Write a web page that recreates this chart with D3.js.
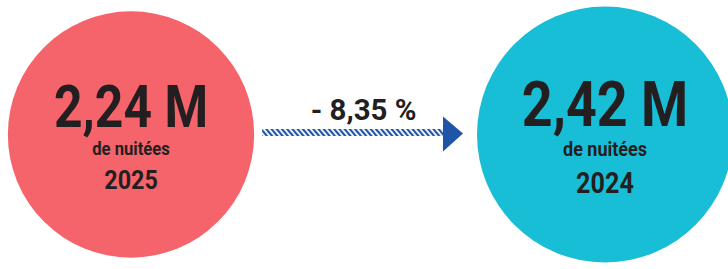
<!DOCTYPE html>
<html>
<head>
<meta charset="utf-8">
<script src="https://cdn.jsdelivr.net/npm/d3@7"></script>
<style>
  html, body { margin: 0; padding: 0; background: #fff; }
  #viz { width: 728px; height: 269px; overflow: hidden; }
  text { font-family: Roboto, "Noto Sans", sans-serif; font-weight: 700; fill: #231f20; }
</style>
</head>
<body>
<div id="viz"></div>
<script>
(function() {

    var width = 728;
    var height = 269;

    // data
    var years = ["2025", "2024"];
    var values = [2.24, 2.42];
    var valueLabels = ["2,24 M", "2,42 M"];
    var unitLabel = "de nuitées";
    var changeLabel = "- 8,35 %";

    var circleColors = ["#f5636b", "#18bdd6"];
    var arrowColor = "#1f55a6";

    var data = years.map(function(y, i) {
        return { year: y, value: values[i], label: valueLabels[i], color: circleColors[i] };
    });

    var svg = d3.select("#viz")
        .append("svg")
        .attr("width", width)
        .attr("height", height);

    // scales
    var xScale = d3.scalePoint().domain(years).range([131, 605]);
    var radiusScale = d3.scaleSqrt().domain([0, 2.42]).range([0, 128]);
    // text grows with the value
    var textScale = d3.scaleLinear().domain([0, 2.24]).range([0, 1]);
    var cy = 134.5;

    // hatch pattern for the arrow shaft
    var defs = svg.append("defs");
    var pat = defs.append("pattern")
        .attr("id", "hatch")
        .attr("patternUnits", "userSpaceOnUse")
        .attr("width", 4)
        .attr("height", 4)
        .attr("patternTransform", "rotate(-40)");
    pat.append("rect")
        .attr("width", 2.2)
        .attr("height", 4)
        .attr("fill", arrowColor);

    // circles
    var groups = svg.selectAll(".bubble")
        .data(data)
        .enter().append("g")
        .attr("class", "bubble")
        .attr("transform", function(d) { return "translate(" + xScale(d.year) + "," + cy + ")"; });

    groups.append("circle")
        .attr("r", function(d) { return radiusScale(d.value); })
        .attr("fill", function(d) { return d.color; });

    function k(d) { return textScale(d.value); }

    groups.append("text")
        .attr("text-anchor", "middle")
        .attr("transform", function(d) { return "translate(0," + (-8 * k(d)) + ") scale(0.845,1)"; })
        .attr("font-size", function(d) { return 59 * k(d); })
        .text(function(d) { return d.label; });

    groups.append("text")
        .attr("text-anchor", "middle")
        .attr("transform", function(d) { return "translate(0," + (20 * k(d)) + ") scale(0.9,1)"; })
        .attr("font-size", function(d) { return 18.5 * k(d); })
        .text(unitLabel);

    groups.append("text")
        .attr("text-anchor", "middle")
        .attr("transform", function(d) { return "translate(0," + (54 * k(d)) + ") scale(0.88,1)"; })
        .attr("font-size", function(d) { return 26.5 * k(d); })
        .text(function(d) { return d.year; });

    // arrow between circles
    var x0 = xScale(years[0]) + radiusScale(values[0]) + 8;
    var x1 = xScale(years[1]) - radiusScale(values[1]) - 14;
    var headW = 20;
    var ay = 132.5;

    svg.append("rect")
        .attr("x", x0)
        .attr("y", ay - 3.5)
        .attr("width", x1 - headW - x0)
        .attr("height", 7)
        .attr("fill", "url(#hatch)");

    svg.append("path")
        .attr("d", d3.line()([
            [x1 - headW, ay - 16],
            [x1, ay + 1],
            [x1 - headW, ay + 19]
        ]) + "Z")
        .attr("fill", arrowColor);

    svg.append("text")
        .attr("text-anchor", "middle")
        .attr("transform", "translate(" + ((x0 + x1) / 2 + 1) + ",120) scale(0.98,1)")
        .attr("font-size", 30)
        .text(changeLabel);

})();
</script>
</body>
</html>
